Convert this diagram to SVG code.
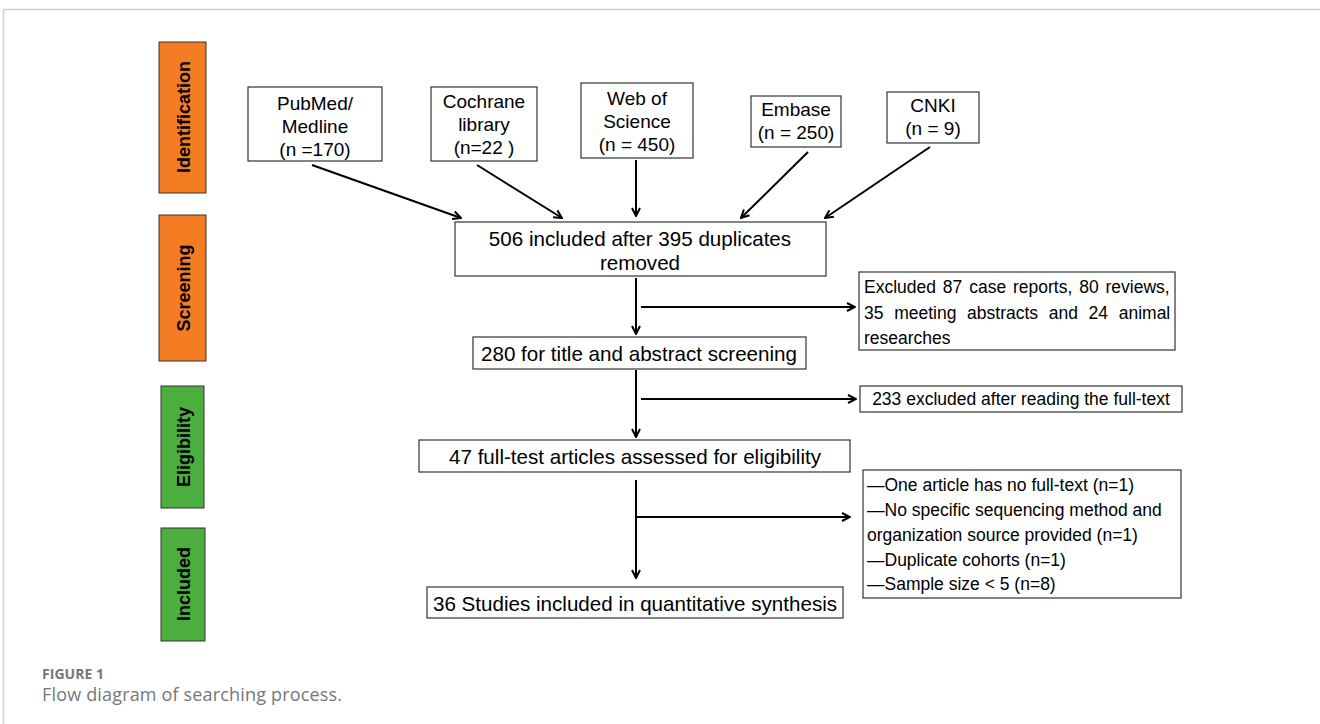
<svg xmlns="http://www.w3.org/2000/svg" width="1320" height="724" viewBox="0 0 1320 724">
<defs>
<style>
.bg{fill:#fff}
.frame{fill:none;stroke:#cfcfcf;stroke-width:1.5}
.box{fill:#fff;stroke:#333;stroke-width:1.2}
.orange{fill:#F47D23;stroke:#333;stroke-width:1}
.green{fill:#4BAE3F;stroke:#333;stroke-width:1}
.t{font-family:"Liberation Sans",Arial,sans-serif;font-size:19px;fill:#000;text-anchor:middle}
.m{font-family:"Liberation Sans",Arial,sans-serif;font-size:20.6px;fill:#000;text-anchor:middle}
.s{font-family:"Liberation Sans",Arial,sans-serif;font-size:17.5px;fill:#000}
.side{font-family:"Liberation Sans",Arial,sans-serif;font-size:18px;font-weight:bold;fill:#000;text-anchor:middle}
.cap1{font-family:"Open Sans","Liberation Sans",sans-serif;font-size:14px;font-weight:bold;fill:#777}
.cap2{font-family:"Open Sans","Liberation Sans",sans-serif;font-size:18px;fill:#777}
.c{fill:none;stroke:#000;stroke-width:2;marker-end:url(#ah)}
</style>
<marker id="ah" viewBox="0 0 10 10" refX="9" refY="5" markerWidth="5" markerHeight="5" orient="auto" markerUnits="strokeWidth">
<path d="M1,1 L9,5 L1,9" fill="none" stroke="#000" stroke-width="2"/>
</marker>
</defs>
<rect class="bg" x="0" y="0" width="1320" height="724"/>
<path class="frame" d="M3.5,724 L3.5,9.5 L1320,9.5"/>

<g id="phase-identification"><rect class="orange" x="159" y="42" width="47" height="151"/><text class="side" transform="translate(189.5,117) rotate(-90)">Identification</text></g>
<g id="phase-screening"><rect class="orange" x="159" y="215" width="47" height="146"/><text class="side" transform="translate(189.5,288) rotate(-90)">Screening</text></g>
<g id="phase-eligibility"><rect class="green" x="161" y="386" width="43" height="122"/><text class="side" transform="translate(189.5,447) rotate(-90)">Eligibility</text></g>
<g id="phase-included"><rect class="green" x="161" y="528" width="44" height="113"/><text class="side" transform="translate(189.5,584) rotate(-90)">Included</text></g>

<g id="pubmed"><rect class="box" x="248" y="87" width="134" height="74"/><text class="t" x="315" y="110">PubMed/</text><text class="t" x="315" y="133">Medline</text><text class="t" x="315" y="156">(n =170)</text></g>
<g id="cochrane"><rect class="box" x="431" y="87" width="106" height="74"/><text class="t" x="484" y="108">Cochrane</text><text class="t" x="484" y="131">library</text><text class="t" x="484" y="154">(n=22 )</text></g>
<g id="wos"><rect class="box" x="581" y="83" width="112" height="75"/><text class="t" x="637" y="105">Web of</text><text class="t" x="637" y="128">Science</text><text class="t" x="637" y="151">(n = 450)</text></g>
<g id="embase"><rect class="box" x="751" y="96" width="90" height="51"/><text class="t" x="796" y="116">Embase</text><text class="t" x="796" y="139">(n = 250)</text></g>
<g id="cnki"><rect class="box" x="887" y="92" width="92" height="51"/><text class="t" x="933" y="112">CNKI</text><text class="t" x="933" y="135">(n = 9)</text></g>

<g id="dedup"><rect class="box" x="455" y="222" width="371" height="54"/><text class="m" x="640" y="246">506 included after 395 duplicates</text><text class="m" x="640" y="270">removed</text></g>
<g id="excl1"><rect class="box" x="859" y="272" width="316" height="78"/>
<text class="s" x="864" y="293" word-spacing="2">Excluded 87 case reports, 80 reviews,</text>
<text class="s" x="864" y="319" word-spacing="5.8">35 meeting abstracts and 24 animal</text>
<text class="s" x="864" y="344">researches</text></g>
<g id="title-screen"><rect class="box" x="473" y="337" width="333" height="32"/><text class="m" x="639" y="361">280 for title and abstract screening</text></g>
<g id="excl2"><rect class="box" x="860" y="386" width="322" height="26"/><text class="s" x="1021" y="405" text-anchor="middle">233 excluded after reading the full-text</text></g>
<g id="eligible"><rect class="box" x="419" y="440" width="431" height="32"/><text class="m" x="635" y="464">47 full-test articles assessed for eligibility</text></g>
<g id="excl3"><rect class="box" x="863" y="470" width="318" height="128"/>
<text class="s" x="867" y="491">—One article has no full-text (n=1)</text>
<text class="s" x="867" y="516">—No specific sequencing method and</text>
<text class="s" x="867" y="541">organization source provided (n=1)</text>
<text class="s" x="867" y="566">—Duplicate cohorts (n=1)</text>
<text class="s" x="867" y="590">—Sample size &lt; 5 (n=8)</text></g>
<g id="included"><rect class="box" x="427" y="587" width="416" height="31"/><text class="m" x="635" y="611">36 Studies included in quantitative synthesis</text></g>

<g id="connectors">
<path class="c" d="M312,165 L461,218"/>
<path class="c" d="M477,165 L562,218"/>
<path class="c" d="M636,160 L636,216"/>
<path class="c" d="M808,152 L741,218"/>
<path class="c" d="M930,147 L825,218"/>
<path class="c" d="M636,278 L636,334"/>
<path class="c" d="M641,307 L855,307"/>
<path class="c" d="M636,370 L636,437"/>
<path class="c" d="M641,399 L856,399"/>
<path class="c" d="M636,480 L636,578"/>
<path class="c" d="M637,517 L850,517"/>
</g>

<text class="cap1" x="42" y="679" textLength="62" lengthAdjust="spacing">FIGURE 1</text>
<text class="cap2" x="42" y="701" textLength="300" lengthAdjust="spacing">Flow diagram of searching process.</text>
</svg>
